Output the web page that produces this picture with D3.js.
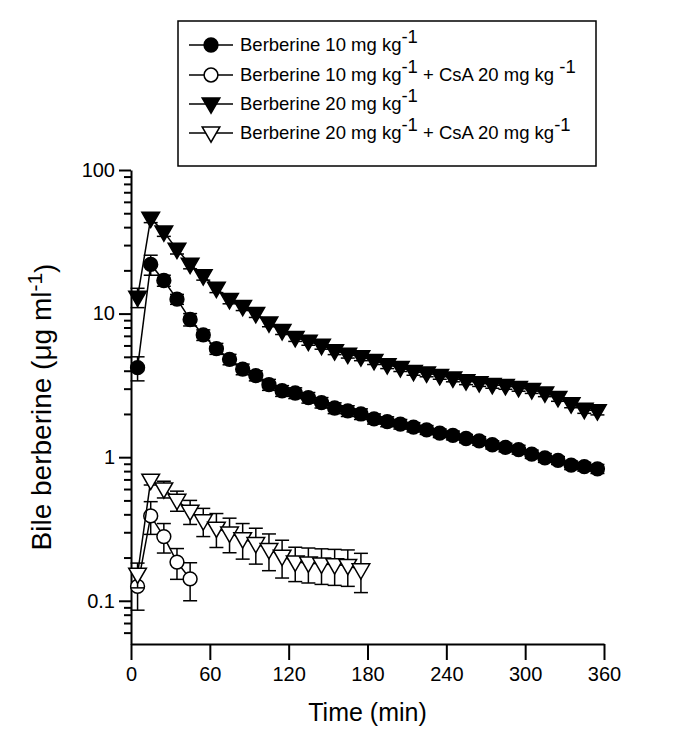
<!DOCTYPE html>
<html>
<head>
<meta charset="utf-8">
<script src="https://cdn.jsdelivr.net/npm/d3@7"></script>
<style>
  body { margin: 0; background: #fff; }
  svg { display: block; font-family: "Liberation Sans", Arial, Helvetica, sans-serif; }
</style>
</head>
<body>
<svg id="chart" width="680" height="744"></svg>
<script>
// Sampling times (min), midpoints of 10-min bile collection intervals
const timesFull = [5, 15, 25, 35, 45, 55, 65, 75, 85, 95, 105, 115, 125, 135, 145, 155, 165, 175,
                   185, 195, 205, 215, 225, 235, 245, 255, 265, 275, 285, 295, 305, 315, 325, 335, 345, 355];
const timesCsA10 = [5, 15, 25, 35, 45];
const timesCsA20 = [5, 15, 25, 35, 45, 55, 65, 75, 85, 95, 105, 115, 125, 135, 145, 155, 165, 175];

// Berberine 10 mg/kg
const ber10Mean = [4.2, 22, 17, 12.6, 9.1, 7.1, 5.7, 4.8, 4.1, 3.7, 3.2, 2.9, 2.8, 2.6, 2.4, 2.2, 2.1, 2.0,
                   1.85, 1.77, 1.70, 1.62, 1.55, 1.47, 1.42, 1.35, 1.30, 1.22, 1.17, 1.13, 1.05, 0.99, 0.95, 0.88, 0.86, 0.83];
const ber10SD   = [0.8, 3.5, 1.5, 1.0, 0.9, 0.6, 0.5, 0.4, 0.35, 0.3, 0.28, 0.25, 0.24, 0.22, 0.2, 0.19, 0.18, 0.17,
                   0.15, 0.14, 0.13, 0.12, 0.11, 0.1, 0.1, 0.09, 0.09, 0.08, 0.08, 0.08, 0.07, 0.07, 0.06, 0.06, 0.06, 0.06];

// Berberine 10 mg/kg + CsA 20 mg/kg
const ber10CsAMean = [0.126, 0.39, 0.28, 0.186, 0.142];
const ber10CsASD   = [0.04, 0.1, 0.065, 0.045, 0.042];

// Berberine 20 mg/kg
const ber20Mean = [13, 46, 37, 28, 22, 18.3, 15, 12.5, 11.2, 10, 8.6, 7.6, 6.8, 6.4, 6.0, 5.5, 5.2, 5.0,
                   4.7, 4.4, 4.2, 3.95, 3.85, 3.7, 3.55, 3.4, 3.3, 3.2, 3.15, 3.05, 2.95, 2.8, 2.6, 2.35, 2.15, 2.1];
const ber20SD   = [2, 3, 2.5, 2, 1.5, 1.2, 1.0, 0.8, 0.7, 0.6, 0.5, 0.45, 0.4, 0.38, 0.35, 0.32, 0.3, 0.3,
                   0.28, 0.26, 0.25, 0.23, 0.22, 0.21, 0.2, 0.2, 0.19, 0.18, 0.18, 0.17, 0.17, 0.16, 0.15, 0.14, 0.13, 0.13];

// Berberine 20 mg/kg + CsA 20 mg/kg
const ber20CsAMean = [0.153, 0.69, 0.6, 0.5, 0.42, 0.36, 0.32, 0.296, 0.27, 0.25, 0.227, 0.204, 0.186, 0.183, 0.18, 0.178, 0.176, 0.164];
const ber20CsASD   = [0.03, 0.05, 0.08, 0.08, 0.08, 0.08, 0.085, 0.08, 0.075, 0.07, 0.065, 0.06, 0.05, 0.05, 0.05, 0.05, 0.05, 0.05];

const xTicks = [0, 60, 120, 180, 240, 300, 360];
const yMajorTicks = [0.1, 1, 10, 100];

const legendLabels = [
  { main: "Berberine 10 mg kg", sup: "-1", rest: "", sup2: "" },
  { main: "Berberine 10 mg kg", sup: "-1", rest: " + CsA 20 mg kg ", sup2: "-1" },
  { main: "Berberine 20 mg kg", sup: "-1", rest: "", sup2: "" },
  { main: "Berberine 20 mg kg", sup: "-1", rest: " + CsA 20 mg kg", sup2: "-1" }
];

const series = [
  { t: timesFull,  m: ber10Mean,    sd: ber10SD,    shape: "circle",   fill: "#000" },
  { t: timesCsA10, m: ber10CsAMean, sd: ber10CsASD, shape: "circle",   fill: "#fff" },
  { t: timesFull,  m: ber20Mean,    sd: ber20SD,    shape: "triangle", fill: "#000" },
  { t: timesCsA20, m: ber20CsAMean, sd: ber20CsASD, shape: "triangle", fill: "#fff" }
];

const svg = d3.select("#chart");
const x = d3.scaleLinear().domain([0, 360]).range([131, 604]);
const y = d3.scaleLog().domain([0.05, 100]).range([644, 170]);

// Marker shapes
const circleSym = d3.symbol().type(d3.symbolCircle).size(150);
const triSym = d3.symbol().type(d3.symbolTriangle).size(135);
function markerPath(shape) {
  return shape === "circle" ? circleSym() : triSym();
}
function markerTransform(shape, px, py) {
  // triangles point downward
  return shape === "circle" ? `translate(${px},${py})` : `translate(${px},${py}) rotate(180)`;
}

const tickFont = 20;

// Axes
const xAxis = svg.append("g")
  .attr("transform", `translate(0,${y(0.05)})`)
  .call(d3.axisBottom(x).tickValues(xTicks).tickSize(16).tickPadding(7).tickSizeOuter(0));
xAxis.select(".domain").attr("stroke-width", 2);
xAxis.selectAll(".tick line").attr("stroke-width", 2);
xAxis.selectAll(".tick text").attr("font-size", tickFont).attr("font-family", "Liberation Sans, Arial, sans-serif").attr("fill", "#000");

const minorTicks = y.ticks().filter(v => !yMajorTicks.includes(+v.toPrecision(6)) && v > 0.05 && v < 100);
const yMinor = svg.append("g")
  .attr("transform", `translate(${x(0)},0)`)
  .call(d3.axisLeft(y).tickValues(minorTicks).tickSize(7).tickFormat("").tickSizeOuter(0));
yMinor.select(".domain").attr("stroke-width", 2);
yMinor.selectAll(".tick line").attr("stroke-width", 2);

const yMajor = svg.append("g")
  .attr("transform", `translate(${x(0)},0)`)
  .call(d3.axisLeft(y).tickValues(yMajorTicks).tickSize(12).tickPadding(4)
        .tickFormat(d => String(d)).tickSizeOuter(0));
yMajor.select(".domain").remove();
yMajor.selectAll(".tick line").attr("stroke-width", 2);
yMajor.selectAll(".tick text").attr("font-size", tickFont).attr("font-family", "Liberation Sans, Arial, sans-serif").attr("fill", "#000");

// Axis titles
svg.append("text")
  .attr("x", (x(0) + x(360)) / 2).attr("y", 721)
  .attr("text-anchor", "middle").attr("font-size", 25)
  .text("Time (min)");

const yTitle = svg.append("text")
  .attr("transform", `translate(51,${(y(0.05) + y(100)) / 2}) rotate(-90)`)
  .attr("text-anchor", "middle").attr("font-size", 28);
yTitle.append("tspan").text("Bile berberine (\u03bcg ml");
yTitle.append("tspan").attr("dy", "-0.42em").attr("font-size", 21).text("-1");
yTitle.append("tspan").attr("dy", "0.42em").text(")");

// Series: connecting lines, error bars, markers
const line = d3.line().x(d => x(d.t)).y(d => y(d.m));
const capHalf = 7;

series.forEach(s => {
  const pts = s.t.map((t, i) => ({ t, m: s.m[i], sd: s.sd[i] }));
  const g = svg.append("g");
  g.append("path").datum(pts).attr("d", line)
    .attr("fill", "none").attr("stroke", "#000").attr("stroke-width", 1.5);

  const eb = g.selectAll(".eb").data(pts).enter().append("g");
  eb.append("line")
    .attr("x1", d => x(d.t)).attr("x2", d => x(d.t))
    .attr("y1", d => y(d.m + d.sd)).attr("y2", d => y(Math.max(d.m - d.sd, 0.051)))
    .attr("stroke", "#000").attr("stroke-width", 1.5);
  eb.append("line")
    .attr("x1", d => x(d.t) - capHalf).attr("x2", d => x(d.t) + capHalf)
    .attr("y1", d => y(d.m + d.sd)).attr("y2", d => y(d.m + d.sd))
    .attr("stroke", "#000").attr("stroke-width", 1.5);
  eb.append("line")
    .attr("x1", d => x(d.t) - capHalf).attr("x2", d => x(d.t) + capHalf)
    .attr("y1", d => y(Math.max(d.m - d.sd, 0.051))).attr("y2", d => y(Math.max(d.m - d.sd, 0.051)))
    .attr("stroke", "#000").attr("stroke-width", 1.5);

  g.selectAll(".mk").data(pts).enter().append("path")
    .attr("d", markerPath(s.shape))
    .attr("transform", d => markerTransform(s.shape, x(d.t), y(d.m) + (s.shape === "triangle" ? -1 : 0)))
    .attr("fill", s.fill).attr("stroke", "#000").attr("stroke-width", 1.5);
});

// Legend
const legend = svg.append("g");
legend.append("rect")
  .attr("x", 178).attr("y", 21).attr("width", 418).attr("height", 145)
  .attr("fill", "#fff").attr("stroke", "#000").attr("stroke-width", 1.5);

const rowY = [45, 75, 104, 133];
legendLabels.forEach((lab, i) => {
  const s = series[i];
  const ry = rowY[i];
  legend.append("line").attr("x1", 189).attr("x2", 233).attr("y1", ry).attr("y2", ry)
    .attr("stroke", "#000").attr("stroke-width", 1.5);
  legend.append("path").attr("d", markerPath(s.shape))
    .attr("transform", markerTransform(s.shape, 211, ry + (s.shape === "triangle" ? -1 : 0)))
    .attr("fill", s.fill).attr("stroke", "#000").attr("stroke-width", 1.5);
  const t = legend.append("text").attr("x", 240).attr("y", ry + 6).attr("font-size", 18.5);
  t.append("tspan").text(lab.main);
  t.append("tspan").attr("dy", -8).text(lab.sup);
  if (lab.rest) {
    t.append("tspan").attr("dy", 8).text(lab.rest);
    t.append("tspan").attr("dy", -8).text(lab.sup2);
  }
});
</script>
</body>
</html>
